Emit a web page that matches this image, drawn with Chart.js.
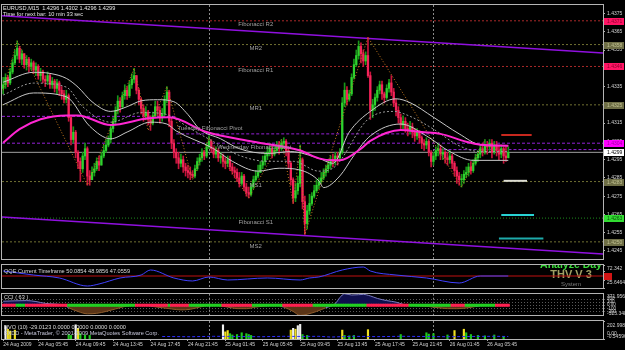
<!DOCTYPE html>
<html>
<head>
<meta charset="utf-8">
<title>EURUSD M15</title>
<script src="https://cdn.jsdelivr.net/npm/chart.js@4.4.1/dist/chart.umd.min.js"></script>
<style>
  html, body { margin: 0; padding: 0; background: #000; }
  #wrap { position: relative; width: 625px; height: 350px; background: #000; overflow: hidden; }
  #wrap canvas { position: absolute; left: 0; }
</style>
</head>
<body>
<div id="wrap">
  <canvas id="main" width="625" height="264" style="top:0px"></canvas>
  <canvas id="qqe" width="625" height="25" style="top:264px"></canvas>
  <canvas id="cci" width="625" height="31" style="top:289px"></canvas>
  <canvas id="nvo" width="625" height="30" style="top:320px"></canvas>
</div>
<script>
// ---------------- data ----------------
// prices in pips above 1.4200, one line = 16 bars (4 hours of M15)
var firstOpen = 134;
var closePips = [
  136,140,137,143,148,152,156,150,153,147,150,146,148,144,146,141,
  143,139,138,141,136,138,134,137,133,131,128,130,118,106,110,99,
  94,90,97,101,86,84,88,90,94,92,97,100,103,106,112,116,
  122,127,124,130,133,130,136,139,141,133,128,123,119,121,117,115,
  119,124,122,118,120,128,132,116,104,99,96,93,95,91,89,88,
  87,86,90,94,96,99,97,102,105,101,98,100,96,97,94,93,
  95,91,89,88,85,82,86,80,77,76,80,84,86,88,92,94,
  97,99,101,98,100,103,101,104,105,100,93,84,74,78,82,95,
  72,60,67,71,75,78,81,83,85,88,90,92,95,94,97,96,
  99,126,133,128,131,140,147,152,157,153,149,152,141,122,125,129,
  133,136,131,129,134,137,132,126,122,118,114,116,112,111,113,110,
  108,110,107,104,103,105,99,94,97,100,101,98,99,96,95,97,
  93,89,86,84,84,87,88,91,89,93,96,98,101,99,103,102,
  104,99,103,100,98,101,97,96,99
];
var highPips = [
  140,142,141,145,150,155,160,157,155,153,152,151,150,149,148,147,
  145,144,141,143,142,140,139,139,138,135,133,133,131,119,113,111,
  100,96,99,104,102,89,91,93,96,97,99,103,106,108,114,118,
  124,130,129,132,136,135,138,142,145,141,134,129,125,124,122,119,
  121,127,127,124,123,130,135,133,118,106,101,99,98,97,93,92,
  91,89,92,96,98,101,100,104,108,106,102,102,101,99,98,96,
  97,97,93,91,90,88,88,87,82,80,82,86,89,92,94,97,
  99,102,104,103,102,105,105,106,107,106,101,94,85,82,86,103,
  96,75,70,76,77,81,84,85,88,90,92,94,97,98,99,99,
  101,129,137,135,133,142,150,155,160,159,155,154,162,143,128,131,
  135,138,138,132,136,139,141,134,128,124,120,119,118,115,116,115,
  112,112,111,108,106,107,106,100,99,102,104,103,101,100,99,100,
  98,94,91,88,87,89,91,93,94,95,98,100,103,104,106,105,
  106,106,105,105,103,103,102,102,102
];
var lowPips = [
  131,134,135,136,142,147,150,148,147,145,144,143,144,142,141,139,
  138,137,135,136,134,134,132,131,130,128,126,126,116,103,104,96,
  90,83,88,95,81,81,84,86,89,89,92,96,99,102,104,110,
  114,120,121,123,128,128,129,134,137,131,125,120,116,117,114,111,
  114,118,119,115,116,119,126,113,101,96,93,90,91,88,86,85,
  84,85,85,89,92,94,95,96,101,99,96,96,94,93,91,90,
  91,89,87,85,83,80,81,78,75,74,75,79,83,85,88,90,
  92,95,97,96,97,99,98,100,101,97,90,81,71,72,76,80,
  68,54,57,65,70,74,77,79,82,84,86,88,90,91,92,92,
  95,98,124,125,127,130,139,146,150,148,146,147,140,117,118,122,
  127,131,128,126,128,132,130,124,119,115,112,112,110,108,109,107,
  105,106,104,101,100,101,97,91,92,95,97,95,95,93,92,93,
  90,86,82,81,80,82,85,86,87,88,92,94,96,97,98,98,
  100,96,98,97,95,96,93,94,96
];

var timeTickIdx = [0, 15, 31, 47, 63, 79, 95, 111, 127, 143, 159, 175, 191, 207];
var timeTickLabels = ['24 Aug 2009', '24 Aug 05:45', '24 Aug 09:45', '24 Aug 13:45', '24 Aug 17:45',
  '24 Aug 21:45', '25 Aug 01:45', '25 Aug 05:45', '25 Aug 09:45', '25 Aug 13:45', '25 Aug 17:45',
  '25 Aug 21:45', '26 Aug 01:45', '26 Aug 05:45'];
var daySeparators = [88, 184];
var priceTicks = [1.4375, 1.4365, 1.4355, 1.4345, 1.4335, 1.4325, 1.4315, 1.4305, 1.4295,
  1.4285, 1.4275, 1.4265, 1.4255, 1.4245];

// pivot levels
var levelNames = ['Fibonacci R2', 'MR2', 'Fibonacci R1', 'MR1', 'MS1', 'Fibonacci S1', 'MS2'];
var levelPrices = [1.4371, 1.4358, 1.4346, 1.4325, 1.4283, 1.4263, 1.4250];
var pivotFrom = [-0.5, 74, -0.5, 184];
var pivotTo = [74, 184, 256.5, 256.5];
var pivotPrices = [1.43187, 1.43091, 1.4304, 1.43005];
var bidPrice = 1.4299;
var channelTop = [1.43738, 1.43534];
var channelBottom = [1.42636, 1.42433];
var sideFrom = [213, 214, 213, 212];
var sideTo = [226, 224, 227, 231];
var sidePrices = [1.43085, 1.42834, 1.42647, 1.42518];
var markPrices = [1.4371, 1.4358, 1.4346, 1.4325, 1.4304, 1.4299, 1.4283, 1.4263, 1.4250];
var markKinds = ['fibR', 'mid', 'fibR', 'mid', 'pivot', 'bid', 'mid', 'fibS', 'mid'];

// moving averages / envelope / zigzag (bar index, pips)
var maIdx = [0,7,16,27,32,46,62,71,87,107,127,135,141,144,153,157,170,179,187,198,204,216];
var maPips = [104.3,111.7,117.1,119.2,119.2,113.9,117.6,118.2,110.1,104.8,100.0,95.7,94.6,94.6,101.0,105.3,111.2,110.1,109.1,104.8,103.2,102.6];
var envUpIdx = [0,13,20,27,32,38,46,53,59,66,73,79,84,93,101,113,123,135,141,148,157,168,174,184,195,204,216];
var envUpPips = [137.4,142.8,142.2,139.5,134.7,126.7,121.4,124.0,127.2,127.8,126.7,119.7,111.7,106.4,101.0,98.4,99.4,95.7,93.0,110.1,121.4,128.3,126.2,118.2,109.1,103.2,102.6];
var envMidIdx = [0,13,27,34,46,59,70,79,90,101,113,124,135,141,156,167,174,184,195,204,216];
var envMidPips = [130.4,136.9,134.7,124.0,115.5,120.8,119.7,112.8,104.8,97.3,94.1,94.1,88.7,90.3,117.1,121.4,118.7,111.7,102.6,99.4,99.4];
var envLowIdx = [0,13,27,37,46,53,63,70,74,90,98,109,118,127,135,137,144,150,157,170,181,191,201,216];
var envLowPips = [125.1,131.5,129.4,113.3,106.4,110.1,115.5,114.5,110.7,101.0,94.1,88.7,90.3,89.3,83.4,79.7,86.1,97.3,108.0,114.5,108.0,99.4,94.6,94.6];
var zigIdx = [0,6,36,56,62,70,81,88,105,119,124,127,129,156,196,206];
var zigPips = [133,160,81,145,111,135,84,107,74,106,71,103,54,162,80,106];

// QQE
var qqeIdx = [0,13,24,36,41,50,59,63,73,81,88,96,113,127,131,135,145,154,157,168,181,195,204,216];
var qqeVal = [60.2,52.0,46.0,29.7,33.8,46.0,52.0,62.2,46.0,39.9,48.0,41.9,46.0,41.9,46.0,48.0,62.2,68.3,60.2,52.0,46.0,35.8,50.0,50.0];
var qqeLevel = 50;

// CCI (63)
var cciIdx = [0,10,14,18,26,28,32,36,40,44,48,52,56,60,64,68,72,76,80,84,88,92,96,100,104,108,112,116,120,124,127,130,134,138,142,144,146,149,152,154,157,160,164,168,171,174,178,182,186,190,194,198,202,206,210,216];
var cciVal = [130,150,120,60,0,-80,-200,-275,-260,-200,-120,-40,0,20,-40,-80,-120,-150,-130,-60,0,-10,-60,-108,-110,-60,-20,10,-60,-200,-330,-290,-200,-80,50,250,370,330,340,350,300,220,150,100,30,0,-20,-40,-80,-108,-110,-90,-40,10,20,-10];
var cciBandEnd = [5, 9, 27, 56, 70, 71, 79, 93, 106, 119, 132, 155, 173, 191, 197, 210, 216];
var cciBandUp = [0, 1, 0, 1, 0, 1, 0, 1, 0, 1, 0, 1, 0, 1, 0, 1, 0];
var cciGridLevels = [200, 100, 0, -100, -200];

// NVO (10)
var nvoWhiteIdx = [1, 31, 94, 124, 126, 127];
var nvoWhiteVal = [150, 160, 160, 120, 150, 165];
var nvoYellowIdx = [2, 3, 5, 32, 95, 96, 123, 125, 145, 156, 193, 197];
var nvoYellowVal = [110, 90, 100, 120, 80, 95, 100, 110, 100, 105, 95, 110];
var nvoGreenIdx = [28, 29, 33, 35, 37, 97, 98, 100, 102, 104, 105, 106, 128, 130, 146, 148, 150, 170, 181, 182, 184, 190, 198, 200, 203, 206, 210, 214];
var nvoGreenVal = [50, 40, 60, 45, 40, 60, 45, 50, 70, 60, 50, 40, 50, 40, 40, 35, 40, 50, 70, 55, 60, 45, 70, 50, 40, 35, 45, 30];
var nvoLineIdx = [68, 80, 90, 100, 110, 120, 128, 135, 140, 150, 160, 170, 180, 190, 200, 210, 216];
var nvoLineVal = [28, 25, 30, 28, 25, 30, 28, 30, 22, 30, 26, 30, 28, 25, 28, 30, 28];

// ---------------- chart setup ----------------
var X_MIN = -0.5, X_MAX = 256.5;
var FONT = '"Liberation Sans", Arial, sans-serif';
Chart.defaults.font.family = FONT;
Chart.defaults.font.size = 5;
Chart.defaults.color = '#d2d2d2';
Chart.defaults.animation = false;
Chart.defaults.elements.point.radius = 0;
Chart.defaults.plugins.legend.display = false;
Chart.defaults.plugins.tooltip.enabled = false;

function px(p) { return +(1.42 + p * 0.0001).toFixed(5); }
function pts(idx, vals, conv) {
  return idx.map(function (x, k) { return { x: x, y: conv ? conv(vals[k]) : vals[k] }; });
}
function seg(x0, x1, y, color, dash, width, order) {
  return { type: 'line', data: [{ x: x0, y: y }, { x: x1, y: y }], borderColor: color,
    borderDash: dash || [], borderWidth: width || 1, order: order };
}
function curve(data, color, width, dash, order) {
  return { type: 'line', data: data, borderColor: color, borderWidth: width, borderDash: dash || [],
    cubicInterpolationMode: 'monotone', order: order };
}
function text(ctx, s, x, y, font, color, align, base) {
  ctx.font = font; ctx.fillStyle = color;
  ctx.textAlign = align || 'left'; ctx.textBaseline = base || 'middle';
  ctx.fillText(s, x, y);
}

function xScale(show) {
  var o = {
    type: 'linear', min: X_MIN, max: X_MAX, offset: false, display: show,
    grid: { offset: false, drawOnChartArea: false, drawTicks: true, tickLength: 2, color: '#b0b0b0' },
    border: { display: false },
    ticks: { autoSkip: false, maxRotation: 0, minRotation: 0, align: 'start', padding: 1,
      color: '#d2d2d2', font: { size: 5 },
      callback: function (v, k) { return timeTickLabels[k]; } },
    afterBuildTicks: function (s) { s.ticks = timeTickIdx.map(function (v) { return { value: v }; }); }
  };
  if (show) o.afterFit = function (s) { s.height = 11; };
  return o;
}
function yScale(min, max, extra) {
  var o = {
    type: 'linear', position: 'right', min: min, max: max,
    grid: { drawOnChartArea: false, drawTicks: true, tickLength: 2, color: '#b0b0b0' },
    border: { display: false },
    ticks: { display: false },
    afterFit: function (s) { s.width = 22; }
  };
  for (var k in extra) o[k] = extra[k];
  return o;
}

function framePlugin(under, over) {
  return {
    id: 'mtframe',
    beforeDatasetsDraw: function (chart) {
      var a = chart.chartArea, ctx = chart.ctx, xs = chart.scales.x;
      ctx.save();
      ctx.strokeStyle = '#8a8a8a'; ctx.lineWidth = 1; ctx.setLineDash([2, 2]);
      daySeparators.forEach(function (v) {
        var x = Math.round(xs.getPixelForValue(v)) + 0.5;
        ctx.beginPath(); ctx.moveTo(x, a.top); ctx.lineTo(x, a.bottom); ctx.stroke();
      });
      ctx.restore();
      if (under) { ctx.save(); under(chart); ctx.restore(); }
    },
    afterDraw: function (chart) {
      var a = chart.chartArea, ctx = chart.ctx;
      if (over) { ctx.save(); over(chart); ctx.restore(); }
      ctx.save();
      ctx.strokeStyle = '#b4b4b4'; ctx.lineWidth = 1;
      var l = Math.round(a.left), t = Math.round(a.top), r = Math.round(a.right), b = Math.round(a.bottom);
      ctx.strokeRect(l - 0.5, t - 0.5, r - l + 1, b - t + 1);
      ctx.restore();
    }
  };
}

// ---------------- main price panel ----------------
var openPips = [firstOpen].concat(closePips.slice(0, -1));
var wickData = [], bodyData = [], wickColors = [], bodyColors = [];
for (var i = 0; i < closePips.length; i++) {
  var o = openPips[i], c = closePips[i], up = c >= o;
  wickData.push({ x: i, y: [px(lowPips[i]), px(highPips[i])] });
  bodyData.push({ x: i, y: [px(Math.min(o, c)), px(Math.max(o, c))] });
  wickColors.push(up ? '#189618' : '#c8143c');
  bodyColors.push(up ? '#2ed22e' : '#f5245a');
}

var levelStyle = { R: ['#a82828', [2, 2]], M: ['#707032', [2, 2]], S: ['#1e8c1e', [1, 2]] };
function levelKind(n) { return n.indexOf('Fibonacci R') === 0 ? 'R' : (n.indexOf('Fibonacci S') === 0 ? 'S' : 'M'); }
var boxStyle = { fibR: ['#ff1464', '#8c0030'], mid: ['#6e6e46', '#c0c090'], pivot: ['#ff00ff', '#a000a0'],
  bid: ['#ffffff', '#000000'], fibS: ['#32dc32', '#0a500a'] };
var sideColors = ['#c8281e', '#dcdcd2', '#28d2d2', '#1eaaaa'];

var mainSets = [];
levelNames.forEach(function (n, k) {
  var st = levelStyle[levelKind(n)];
  mainSets.push(seg(X_MIN, X_MAX, levelPrices[k], st[0], st[1], 1, 9));
});
pivotPrices.forEach(function (p, k) {
  mainSets.push(seg(pivotFrom[k], pivotTo[k], p, '#9420d8', [3, 2], 1, 8));
});
mainSets.push(seg(X_MIN, X_MAX, bidPrice, '#a0a0a0', [], 1, 8));
mainSets.push({ type: 'line', data: [{ x: X_MIN, y: channelTop[0] }, { x: X_MAX, y: channelTop[1] }],
  borderColor: '#9010e0', borderWidth: 1.5, order: 7 });
mainSets.push({ type: 'line', data: [{ x: X_MIN, y: channelBottom[0] }, { x: X_MAX, y: channelBottom[1] }],
  borderColor: '#9010e0', borderWidth: 1.5, order: 7 });
sidePrices.forEach(function (p, k) {
  mainSets.push(seg(sideFrom[k], sideTo[k], p, sideColors[k], [], 2, 7));
});
mainSets.push({ type: 'bar', data: wickData, backgroundColor: wickColors, barThickness: 1,
  grouped: false, borderWidth: 0, order: 5 });
mainSets.push({ type: 'bar', data: bodyData, backgroundColor: bodyColors, barThickness: 1.6,
  grouped: false, borderWidth: 0, minBarLength: 1, order: 4 });
mainSets.push({ type: 'line', data: pts(zigIdx, zigPips, px), borderColor: '#c8781e',
  borderWidth: 1, borderDash: [1, 2], order: 3 });
mainSets.push(curve(pts(envUpIdx, envUpPips, px), '#c8c8c8', 1, [], 2));
mainSets.push(curve(pts(envMidIdx, envMidPips, px), '#9a9a9a', 1, [2, 2], 2));
mainSets.push(curve(pts(envLowIdx, envLowPips, px), '#c8c8c8', 1, [], 2));
mainSets.push(curve(pts(maIdx, maPips, px), '#ff26d2', 2, [], 1));

function mainOver(chart) {
  var ctx = chart.ctx, xs = chart.scales.x, ys = chart.scales.y, a = chart.chartArea;
  var f6 = '6px ' + FONT, f56 = '5.6px ' + FONT;
  levelNames.forEach(function (n, k) {
    text(ctx, n, xs.getPixelForValue(108), ys.getPixelForValue(levelPrices[k]) + 4, f6, '#a0a0a0', 'center');
  });
  text(ctx, 'Tuesday Fibonacci Pivot', xs.getPixelForValue(74.5), ys.getPixelForValue(pivotPrices[1]) - 6, f6, '#a0a0a0');
  text(ctx, 'Wednesday Fibonacci Pivot', xs.getPixelForValue(91.5), ys.getPixelForValue(pivotPrices[2]) + 4, f6, '#a0a0a0');
  text(ctx, 'EURUSD,M15  1.4296 1.4302 1.4296 1.4299', a.left + 1, a.top + 3.5, f56, '#e6e6e6');
  text(ctx, 'Time for next bar: 10 min 33 sec', a.left + 1, a.top + 9.5, f56, '#e6e6e6');
  markPrices.forEach(function (p, k) {
    var st = boxStyle[markKinds[k]], y = Math.round(ys.getPixelForValue(p));
    ctx.fillStyle = st[0];
    ctx.fillRect(Math.round(a.right) + 1, y - 3, 20, 7);
    text(ctx, p.toFixed(4), a.right + 4, y + 0.5, '5px ' + FONT, st[1]);
  });
}

new Chart(document.getElementById('main'), {
  type: 'line',
  data: { datasets: mainSets },
  options: {
    responsive: false,
    layout: { padding: { top: 3, bottom: 1, left: 2, right: 0 } },
    scales: {
      x: xScale(false),
      y: yScale(1.424061, 1.437965, {
        ticks: { display: true, autoSkip: false, padding: 2, color: '#d2d2d2', font: { size: 5 },
          callback: function (v) { return v.toFixed(4); } },
        afterBuildTicks: function (s) { s.ticks = priceTicks.map(function (v) { return { value: v }; }); }
      })
    }
  },
  plugins: [framePlugin(null, mainOver)]
});

// ---------------- QQE panel ----------------
function qqeUnder(chart) {
  var ctx = chart.ctx, a = chart.chartArea;
  ctx.beginPath(); ctx.rect(a.left, a.top, a.right - a.left, a.bottom - a.top); ctx.clip();
  var cx = a.right - 32;
  text(ctx, 'Analyze Day', cx, a.top + 3, 'bold 10.5px ' + FONT, '#3cdc3c', 'center', 'alphabetic');
  text(ctx, 'THV V 3', cx, a.top + 9.5, 'bold 11px ' + FONT, '#a0a064', 'center');
  text(ctx, 'System', cx, a.top + 19, '6px ' + FONT, '#7a7a7a', 'center');
}
function qqeOver(chart) {
  var ctx = chart.ctx, a = chart.chartArea, ys = chart.scales.y;
  text(ctx, 'QQE Current Timeframe 50.0854 48.9856 47.0559', a.left + 2, a.top + 6, '5.6px ' + FONT, '#dcdcdc');
  text(ctx, '72.342', a.right + 4, a.top + 4, '5px ' + FONT, '#d2d2d2');
  text(ctx, '25.6464', a.right + 4, a.bottom - 5, '5px ' + FONT, '#d2d2d2');
  var y = Math.round(ys.getPixelForValue(qqeLevel));
  ctx.fillStyle = '#d21414';
  ctx.fillRect(Math.round(a.right) + 1, y - 3, 8, 7);
}
new Chart(document.getElementById('qqe'), {
  type: 'line',
  data: { datasets: [
    curve(pts(qqeIdx, qqeVal), '#4040ff', 1, [], 1),
    seg(X_MIN, X_MAX, qqeLevel, '#c01010', [], 1, 2)
  ] },
  options: {
    responsive: false,
    layout: { padding: { top: 1, bottom: 1, left: 2, right: 0 } },
    scales: { x: xScale(false), y: yScale(25.6464, 72.342, {}) }
  },
  plugins: [framePlugin(qqeUnder, qqeOver)]
});

// ---------------- CCI panel ----------------
var bandData = [], bandColors = [], segK = 0;
for (var b = 0; b < closePips.length; b++) {
  while (b > cciBandEnd[segK]) segK++;
  bandData.push({ x: b, y: [-40, 40] });
  bandColors.push(cciBandUp[segK] ? '#22d022' : '#ff2050');
}
function cciOver(chart) {
  var ctx = chart.ctx, a = chart.chartArea;
  text(ctx, 'CCI ( 63 )', a.left + 2, a.top + 4, '5.6px ' + FONT, '#dcdcdc');
  text(ctx, '371.956', a.right + 4, a.top + 2.5, '5px ' + FONT, '#d2d2d2');
  text(ctx, '-323.348', a.right + 4, a.bottom - 2, '5px ' + FONT, '#d2d2d2');
}
new Chart(document.getElementById('cci'), {
  type: 'line',
  data: { datasets: [
    { type: 'bar', data: bandData, backgroundColor: bandColors, barThickness: 2.4, grouped: false,
      borderWidth: 0, order: 1 },
    { type: 'line', data: pts(cciIdx, cciVal), borderWidth: 1, cubicInterpolationMode: 'monotone',
      borderColor: '#7a7ac0',
      segment: { borderColor: function (c) { return (c.p0.parsed.y < 0 && c.p1.parsed.y <= 0) ? '#8c5a2a' : '#7a7ac0'; } },
      fill: { target: 'origin', above: '#0e0e4c', below: '#5a3416' }, order: 2 }
  ] },
  options: {
    responsive: false,
    layout: { padding: { top: 1, bottom: 1, left: 2, right: 0 } },
    scales: {
      x: xScale(false),
      y: yScale(-323.348, 371.956, {
        grid: { drawOnChartArea: true, drawTicks: true, tickLength: 2, color: '#5a5a5a' },
        border: { display: false, dash: [1, 2] },
        ticks: { display: true, autoSkip: false, padding: 2, color: '#d2d2d2', font: { size: 4.5 },
          callback: function (v) { return v === 0 ? '0.00' : String(v); } },
        afterBuildTicks: function (s) { s.ticks = cciGridLevels.map(function (v) { return { value: v }; }); }
      })
    }
  },
  plugins: [framePlugin(null, cciOver)]
});

// ---------------- NVO panel ----------------
function bars(idx, vals) { return idx.map(function (x, k) { return { x: x, y: vals[k] }; }); }
function nvoOver(chart) {
  var ctx = chart.ctx, a = chart.chartArea;
  text(ctx, 'NVO (10) -29.0123 0.0000 0.0000 0.0000 0.0000', a.left + 2, a.top + 6, '5.6px ' + FONT, '#dcdcdc');
  text(ctx, 'FXDD - MetaTrader, \u00a9 2001-2009 MetaQuotes Software Corp.', a.left + 2, a.top + 12.5, '5.6px ' + FONT, '#c8c8dc');
  text(ctx, '202.998', a.right + 4, a.top + 5, '5px ' + FONT, '#d2d2d2');
  text(ctx, '0.00', a.right + 4, a.top + 13, '5px ' + FONT, '#d2d2d2');
  text(ctx, '-0.545962', a.right + 4, a.top + 15.5, '5px ' + FONT, '#d2d2d2');
}
new Chart(document.getElementById('nvo'), {
  type: 'line',
  data: { datasets: [
    { type: 'bar', data: bars(nvoWhiteIdx, nvoWhiteVal), backgroundColor: '#f0f0f0', barThickness: 1.5, grouped: false, order: 2 },
    { type: 'bar', data: bars(nvoYellowIdx, nvoYellowVal), backgroundColor: '#f0e020', barThickness: 1.5, grouped: false, order: 2 },
    { type: 'bar', data: bars(nvoGreenIdx, nvoGreenVal), backgroundColor: '#1ec81e', barThickness: 1.5, grouped: false, order: 2 },
    { type: 'line', data: pts(nvoLineIdx, nvoLineVal), borderColor: '#3030ff', borderWidth: 1, borderDash: [3, 2], order: 1 }
  ] },
  options: {
    responsive: false,
    layout: { padding: { top: 1, bottom: 0, left: 2, right: 0 } },
    scales: { x: xScale(true), y: yScale(-0.545962, 202.998, {}) }
  },
  plugins: [framePlugin(null, nvoOver)]
});
</script>
</body>
</html>
